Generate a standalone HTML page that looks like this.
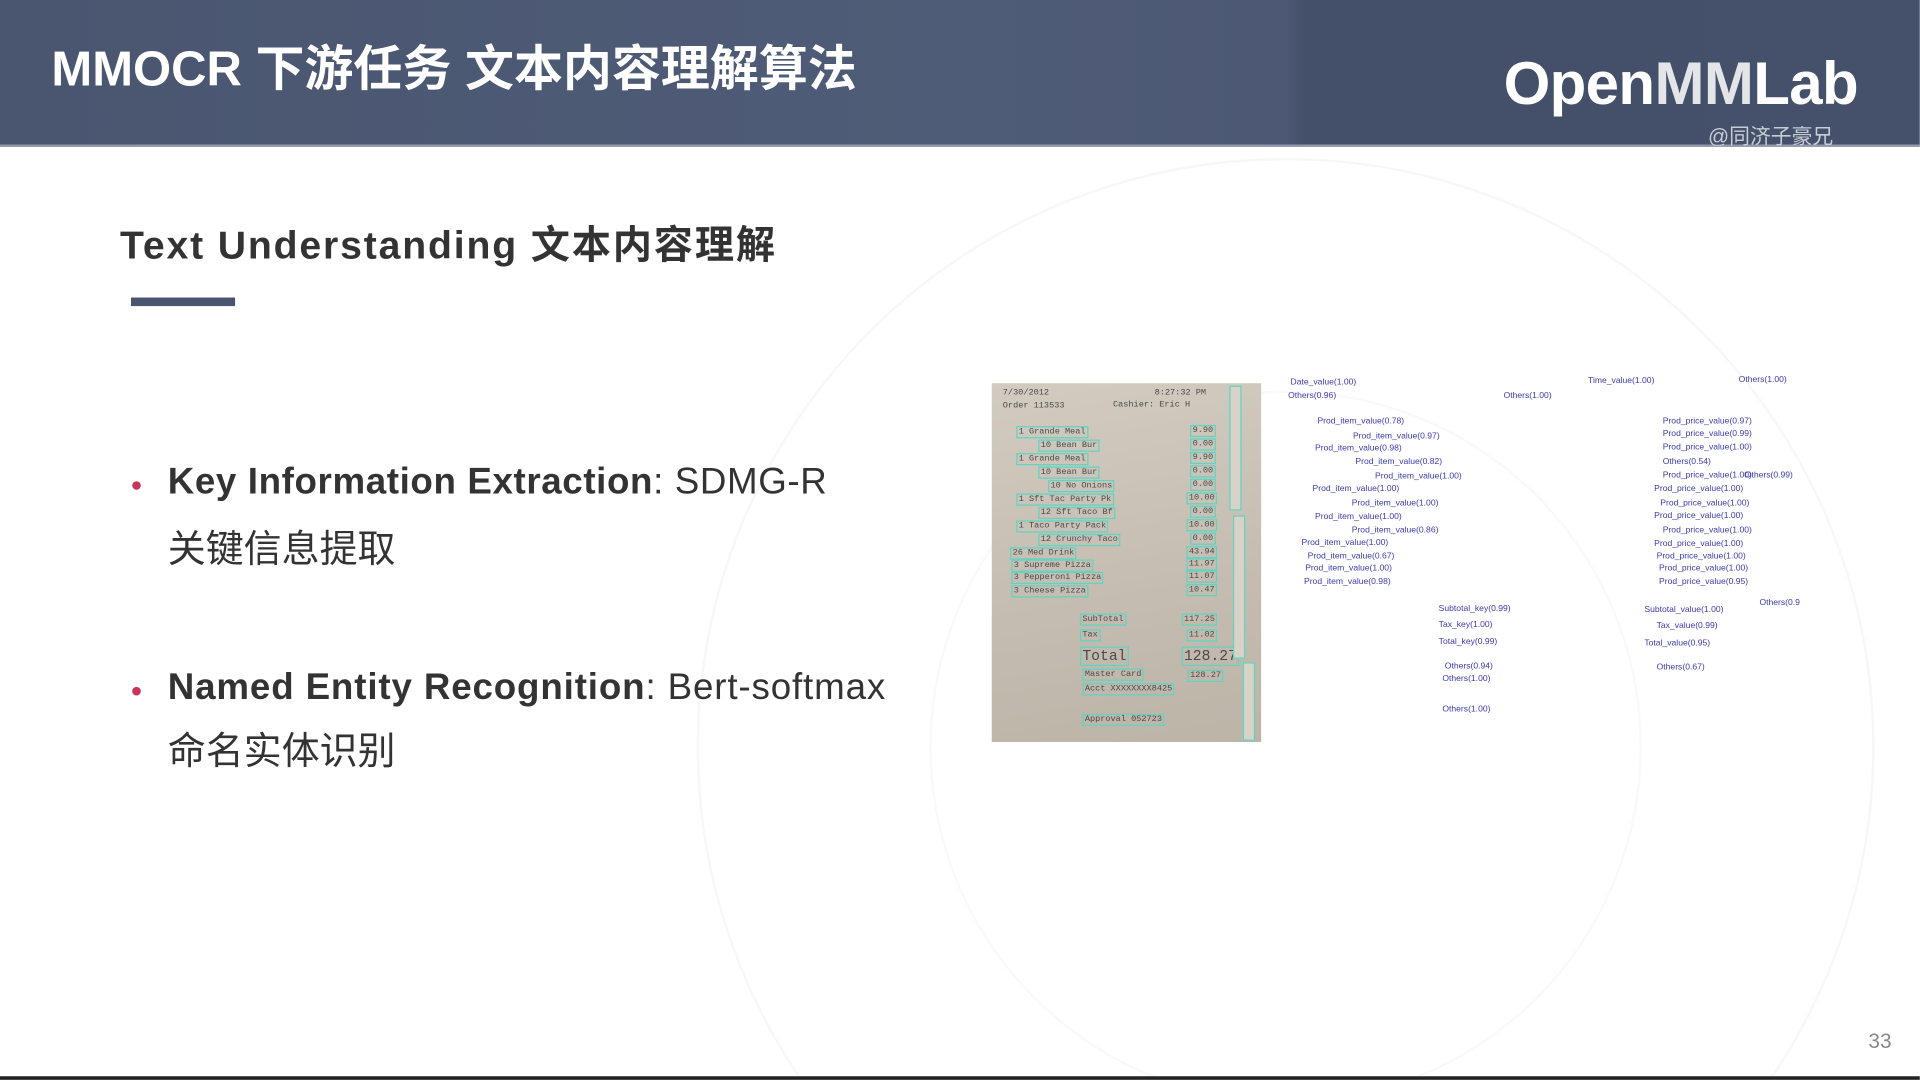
<!DOCTYPE html>
<html><head><meta charset="utf-8"><style>
html,body{margin:0;padding:0;background:#fff;overflow:hidden;width:1920px;height:1080px}
#s{position:absolute;left:0;top:0;width:1568px;height:882px;transform:scale(1.2244);transform-origin:0 0;background:#fff;font-family:"Liberation Sans","Noto Sans CJK SC",sans-serif;overflow:hidden}
.a{position:absolute;white-space:nowrap}
.lb{position:absolute;white-space:nowrap;font-family:"Liberation Sans",sans-serif;font-size:7px;color:#3a3ab0;line-height:8px}
.r{position:absolute;white-space:nowrap;font-family:"Liberation Mono",monospace;font-size:7px;color:#4a4a4a;line-height:8px;border:1px solid #5fd4c0;padding:0 1px}
</style></head><body><div id="s">
<svg class="a" style="left:0;top:0" width="1568" height="882">
<circle cx="1050" cy="610" r="480" fill="none" stroke="#f7f7f7" stroke-width="2"/>
<circle cx="1050" cy="610" r="290" fill="none" stroke="#f9f9f9" stroke-width="2"/>
</svg>
<div class="a" style="left:0;top:0;width:1568px;height:119px;background:linear-gradient(90deg,#4a5670 0%,#4f5c77 50%,#4c5874 67%,#44506a 68%,#45516b 100%)"></div>
<div class="a" style="left:0;top:118px;width:1568px;height:2px;background:#8f99ab"></div>
<div class="a" style="left:42px;top:33px;font-size:40px;font-weight:bold;color:#fff;line-height:48px">MMOCR 下游任务 文本内容理解算法</div>
<div class="a" style="left:1228px;top:40px;font-size:49px;font-weight:bold;color:#fff;line-height:58px;letter-spacing:-0.5px">Open<span style="opacity:.85">MM</span>Lab</div>
<div class="a" style="left:1395px;top:103px;font-size:17px;color:#c8ccd4;line-height:18px;height:16px;overflow:hidden">@同济子豪兄</div>
<div class="a" style="left:98px;top:180px;font-size:32px;font-weight:bold;color:#333;line-height:40px;letter-spacing:1.5px">Text Understanding 文本内容理解</div>
<div class="a" style="left:107px;top:243px;width:85px;height:7px;background:#4a5670"></div>
<div class="a" style="left:108px;top:393px;width:7px;height:7px;border-radius:50%;background:#c8345a"></div>
<div class="a" style="left:137px;top:375px;font-size:30px;color:#333;line-height:38px;letter-spacing:0.5px"><b>Key Information Extraction</b>: SDMG-R</div>
<div class="a" style="left:137px;top:430px;font-size:31px;color:#333;line-height:38px">关键信息提取</div>
<div class="a" style="left:108px;top:561px;width:7px;height:7px;border-radius:50%;background:#c8345a"></div>
<div class="a" style="left:137px;top:543px;font-size:30px;color:#333;line-height:38px;letter-spacing:0.7px"><b>Named Entity Recognition</b>: Bert-softmax</div>
<div class="a" style="left:137px;top:595px;font-size:31px;color:#333;line-height:38px">命名实体识别</div>
<div class="a" style="left:1526px;top:840px;font-size:17px;color:#888;line-height:22px">33</div>
<div class="a" style="left:0;top:879px;width:1568px;height:3px;background:#222"></div>
<!-- receipt -->
<div class="a" style="left:810px;top:313px;width:220px;height:293px;overflow:hidden;background:linear-gradient(170deg,#d2cbc0,#c4bcb0 60%,#bdb4a8)">
<div class="r" style="left:8px;top:4px;border:none">7/30/2012</div><div class="r" style="left:132px;top:4px;border:none">8:27:32 PM</div>
<div class="r" style="left:8px;top:15px;border:none">Order 113533</div><div class="r" style="left:98px;top:14px;border:none">Cashier: Eric H</div>
<div class="r" style="left:20px;top:35px">1 Grande Meal</div><div class="r" style="left:162px;top:34px">9.90</div>
<div class="r" style="left:38px;top:46px">10 Bean Bur</div><div class="r" style="left:162px;top:45px">0.00</div>
<div class="r" style="left:20px;top:57px">1 Grande Meal</div><div class="r" style="left:162px;top:56px">9.90</div>
<div class="r" style="left:38px;top:68px">10 Bean Bur</div><div class="r" style="left:162px;top:67px">0.00</div>
<div class="r" style="left:46px;top:79px">10 No Onions</div><div class="r" style="left:162px;top:78px">0.00</div>
<div class="r" style="left:20px;top:90px">1 Sft Tac Party Pk</div><div class="r" style="left:159px;top:89px">10.00</div>
<div class="r" style="left:38px;top:101px">12 Sft Taco Bf</div><div class="r" style="left:162px;top:100px">0.00</div>
<div class="r" style="left:20px;top:112px">1 Taco Party Pack</div><div class="r" style="left:159px;top:111px">10.00</div>
<div class="r" style="left:38px;top:123px">12 Crunchy Taco</div><div class="r" style="left:162px;top:122px">0.00</div>
<div class="r" style="left:15px;top:134px">26 Med Drink</div><div class="r" style="left:159px;top:133px">43.94</div>
<div class="r" style="left:16px;top:144px">3 Supreme Pizza</div><div class="r" style="left:159px;top:143px">11.97</div>
<div class="r" style="left:16px;top:154px">3 Pepperoni Pizza</div><div class="r" style="left:159px;top:153px">11.07</div>
<div class="r" style="left:16px;top:165px">3 Cheese Pizza</div><div class="r" style="left:159px;top:164px">10.47</div>
<div class="r" style="left:72px;top:188px">SubTotal</div><div class="r" style="left:155px;top:188px">117.25</div>
<div class="r" style="left:72px;top:201px">Tax</div><div class="r" style="left:159px;top:201px">11.02</div>
<div class="r" style="left:72px;top:215px;font-size:12px;line-height:14px">Total</div><div class="r" style="left:155px;top:215px;font-size:12px;line-height:14px">128.27</div>
<div class="r" style="left:74px;top:233px">Master Card</div><div class="r" style="left:160px;top:234px">128.27</div>
<div class="r" style="left:74px;top:245px">Acct XXXXXXXX8425</div>
<div class="r" style="left:74px;top:270px">Approval 052723</div>
<div class="a" style="left:194px;top:2px;width:8px;height:100px;border:1px solid #5fd4c0;background:#d8d2c8"></div>
<div class="a" style="left:197px;top:108px;width:8px;height:115px;border:1px solid #5fd4c0;background:#d8d2c8"></div>
<div class="a" style="left:205px;top:228px;width:8px;height:62px;border:1px solid #5fd4c0;background:#d8d2c8"></div>
</div>
<!-- labels -->
<div class="lb" style="left:1054px;top:309px">Date_value(1.00)</div>
<div class="lb" style="left:1052px;top:320px">Others(0.96)</div>
<div class="lb" style="left:1228px;top:320px">Others(1.00)</div>
<div class="lb" style="left:1297px;top:308px">Time_value(1.00)</div>
<div class="lb" style="left:1420px;top:307px">Others(1.00)</div>
<div class="lb" style="left:1076px;top:341px">Prod_item_value(0.78)</div>
<div class="lb" style="left:1105px;top:353px">Prod_item_value(0.97)</div>
<div class="lb" style="left:1074px;top:363px">Prod_item_value(0.98)</div>
<div class="lb" style="left:1107px;top:374px">Prod_item_value(0.82)</div>
<div class="lb" style="left:1123px;top:386px">Prod_item_value(1.00)</div>
<div class="lb" style="left:1072px;top:396px">Prod_item_value(1.00)</div>
<div class="lb" style="left:1104px;top:408px">Prod_item_value(1.00)</div>
<div class="lb" style="left:1074px;top:419px">Prod_item_value(1.00)</div>
<div class="lb" style="left:1104px;top:430px">Prod_item_value(0.86)</div>
<div class="lb" style="left:1063px;top:440px">Prod_item_value(1.00)</div>
<div class="lb" style="left:1068px;top:451px">Prod_item_value(0.67)</div>
<div class="lb" style="left:1066px;top:461px">Prod_item_value(1.00)</div>
<div class="lb" style="left:1065px;top:472px">Prod_item_value(0.98)</div>
<div class="lb" style="left:1358px;top:341px">Prod_price_value(0.97)</div>
<div class="lb" style="left:1358px;top:351px">Prod_price_value(0.99)</div>
<div class="lb" style="left:1358px;top:362px">Prod_price_value(1.00)</div>
<div class="lb" style="left:1358px;top:374px">Others(0.54)</div>
<div class="lb" style="left:1358px;top:385px">Prod_price_value(1.00)</div>
<div class="lb" style="left:1425px;top:385px">Others(0.99)</div>
<div class="lb" style="left:1351px;top:396px">Prod_price_value(1.00)</div>
<div class="lb" style="left:1356px;top:408px">Prod_price_value(1.00)</div>
<div class="lb" style="left:1351px;top:418px">Prod_price_value(1.00)</div>
<div class="lb" style="left:1358px;top:430px">Prod_price_value(1.00)</div>
<div class="lb" style="left:1351px;top:441px">Prod_price_value(1.00)</div>
<div class="lb" style="left:1353px;top:451px">Prod_price_value(1.00)</div>
<div class="lb" style="left:1355px;top:461px">Prod_price_value(1.00)</div>
<div class="lb" style="left:1355px;top:472px">Prod_price_value(0.95)</div>
<div class="lb" style="left:1437px;top:489px;width:33px;overflow:hidden">Others(0.99)</div>
<div class="lb" style="left:1175px;top:494px">Subtotal_key(0.99)</div>
<div class="lb" style="left:1175px;top:507px">Tax_key(1.00)</div>
<div class="lb" style="left:1175px;top:521px">Total_key(0.99)</div>
<div class="lb" style="left:1180px;top:541px">Others(0.94)</div>
<div class="lb" style="left:1178px;top:551px">Others(1.00)</div>
<div class="lb" style="left:1178px;top:576px">Others(1.00)</div>
<div class="lb" style="left:1343px;top:495px">Subtotal_value(1.00)</div>
<div class="lb" style="left:1353px;top:508px">Tax_value(0.99)</div>
<div class="lb" style="left:1343px;top:522px">Total_value(0.95)</div>
<div class="lb" style="left:1353px;top:542px">Others(0.67)</div>
</div></body></html>
